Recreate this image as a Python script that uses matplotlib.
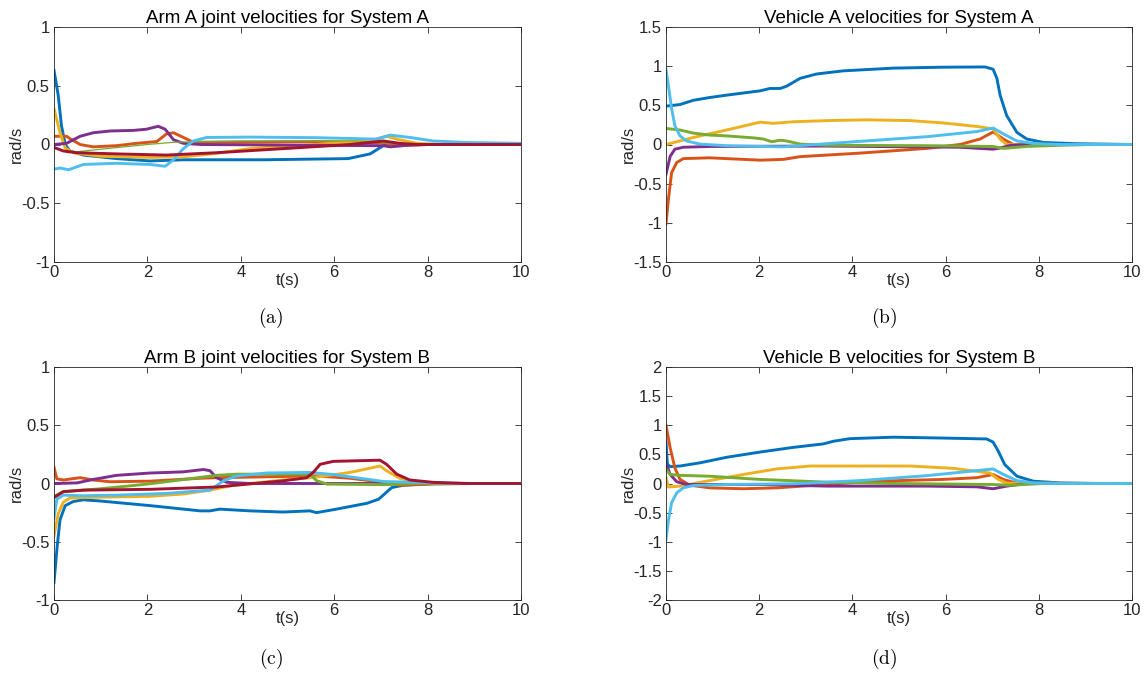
import matplotlib
matplotlib.use('Agg')
import matplotlib.pyplot as plt
from matplotlib.ticker import FormatStrFormatter

plt.rcParams['font.family'] = ['Liberation Sans', 'DejaVu Sans']
plt.rcParams['axes.unicode_minus'] = False
plt.rcParams['mathtext.fontset'] = 'cm'

# MATLAB default line colours
c_blue = '#0072BD'
c_orange = '#D95319'
c_yellow = '#EDB120'
c_purple = '#7E2F8E'
c_green = '#77AC30'
c_lblue = '#4DBEEE'
c_red = '#A2142F'

# ---- (a) Arm A joint velocities, (t, value) ----
arm_a_blue = [(0, 0.63), (0.09, 0.42), (0.16, 0.16), (0.24, 0.0), (0.34, -0.055), (0.63, -0.09),
              (1.34, -0.12), (2.06, -0.14), (2.77, -0.13), (4.5, -0.13), (6.3, -0.12), (6.77, -0.08),
              (7.05, -0.01), (7.2, 0.005), (7.6, 0.0), (10, 0.0)]
arm_a_orange = [(0, 0.07), (0.27, 0.07), (0.34, 0.05), (0.56, 0.0), (0.84, -0.02), (1.34, -0.01),
                (1.77, 0.01), (2.2, 0.025), (2.41, 0.09), (2.56, 0.1), (2.77, 0.06), (2.98, 0.02),
                (4.0, 0.02), (5.6, 0.025), (7.05, 0.015), (7.4, -0.01), (8.0, 0.0), (10, 0.0)]
arm_a_yellow = [(0, 0.305), (0.13, 0.10), (0.24, -0.03), (0.41, -0.07), (0.98, -0.10), (2.06, -0.11),
                (2.77, -0.105), (3.48, -0.075), (4.2, -0.035), (5.6, 0.0), (6.84, 0.04), (7.12, 0.07),
                (7.4, 0.04), (7.77, 0.01), (8.3, 0.0), (10, 0.0)]
arm_a_purple = [(0, 0.0), (0.27, 0.01), (0.56, 0.07), (0.84, 0.10), (1.2, 0.115), (1.7, 0.12),
                (1.98, 0.13), (2.23, 0.155), (2.38, 0.13), (2.56, 0.04), (2.77, 0.01), (3.13, 0.0),
                (5.0, -0.005), (7.05, -0.01), (7.2, -0.02), (7.6, -0.005), (8.0, 0.0), (10, 0.0)]
arm_a_green = [(0, -0.02), (0.3, -0.07), (1.0, -0.04), (2.0, 0.0), (2.6, 0.02), (4.0, 0.03),
               (6.5, 0.03), (7.2, 0.01), (8.0, 0.0), (10, 0.0)]
arm_a_lblue = [(0, -0.21), (0.13, -0.2), (0.31, -0.215), (0.63, -0.17), (1.34, -0.16), (2.06, -0.17),
               (2.38, -0.185), (2.56, -0.13), (2.77, -0.035), (2.98, 0.03), (3.27, 0.06), (4.2, 0.063),
               (5.6, 0.058), (6.9, 0.046), (7.2, 0.08), (7.62, 0.06), (8.12, 0.03), (8.84, 0.017),
               (10, 0.01)]
arm_a_red = [(0, -0.025), (0.2, -0.055), (0.49, -0.07), (1.34, -0.08), (2.41, -0.09), (3.48, -0.07),
             (4.91, -0.035), (6.34, 0.0), (7.05, 0.03), (7.4, 0.01), (7.77, 0.0), (10, 0.0)]

# ---- (b) Vehicle A velocities ----
veh_a_blue = [(0, 0.49), (0.3, 0.51), (0.59, 0.565), (0.94, 0.60), (1.3, 0.63), (2.02, 0.685),
              (2.23, 0.715), (2.45, 0.715), (2.59, 0.745), (2.88, 0.845), (3.23, 0.90), (3.8, 0.94),
              (4.88, 0.975), (5.95, 0.987), (6.85, 0.99), (7.02, 0.96), (7.1, 0.845), (7.17, 0.63),
              (7.31, 0.37), (7.53, 0.155), (7.74, 0.07), (8.1, 0.026), (8.8, 0.01), (10, 0.0)]
veh_a_orange = [(0, -1.01), (0.05, -0.71), (0.12, -0.36), (0.23, -0.23), (0.37, -0.18), (0.94, -0.17),
                (2.02, -0.2), (2.52, -0.19), (2.88, -0.155), (4.16, -0.11), (5.6, -0.05), (6.31, 0.0),
                (6.74, 0.07), (7.02, 0.16), (7.24, 0.07), (7.45, 0.0), (10, 0.0)]
veh_a_yellow = [(0, 0.0), (0.59, 0.09), (1.3, 0.185), (2.02, 0.285), (2.3, 0.27), (2.73, 0.29),
                (3.45, 0.305), (4.3, 0.315), (5.24, 0.305), (5.95, 0.275), (6.67, 0.23), (7.02, 0.2),
                (7.17, 0.07), (7.31, 0.0), (10, 0.0)]
veh_a_purple = [(0, -0.38), (0.09, -0.15), (0.19, -0.06), (0.37, -0.035), (0.94, -0.025), (3.45, -0.02),
                (6.31, -0.035), (7.02, -0.06), (7.13, -0.05), (7.4, -0.01), (7.74, 0.0), (10, 0.0)]
veh_a_green = [(0, 0.205), (0.3, 0.185), (0.59, 0.145), (0.94, 0.12), (1.3, 0.11), (1.87, 0.085),
               (2.09, 0.07), (2.27, 0.035), (2.45, 0.055), (2.59, 0.045), (2.88, 0.005), (3.45, -0.01),
               (5.6, -0.015), (7.02, -0.025), (7.24, -0.05), (7.74, -0.025), (8.45, -0.01), (9.2, 0.0),
               (10, 0.0)]
veh_a_lblue = [(0, 0.955), (0.05, 0.76), (0.12, 0.46), (0.19, 0.24), (0.3, 0.11), (0.44, 0.045),
               (0.73, 0.005), (1.3, -0.015), (2.02, -0.025), (2.52, -0.03), (3.09, -0.005), (4.16, 0.04),
               (5.6, 0.1), (6.67, 0.165), (7.02, 0.21), (7.24, 0.135), (7.53, 0.045), (7.88, 0.013),
               (8.45, 0.0), (10, 0.0)]

# ---- (c) Arm B joint velocities ----
arm_b_blue = [(0, -0.85), (0.07, -0.53), (0.13, -0.31), (0.24, -0.19), (0.41, -0.155), (0.63, -0.14),
              (0.98, -0.15), (2.06, -0.19), (3.13, -0.235), (3.34, -0.235), (3.55, -0.22), (4.2, -0.235),
              (4.91, -0.245), (5.48, -0.235), (5.62, -0.25), (5.98, -0.225), (6.7, -0.17), (6.95, -0.135),
              (7.05, -0.1), (7.23, -0.035), (7.48, -0.015), (8.12, 0.0), (10, 0.0)]
arm_b_orange = [(0, 0.14), (0.06, 0.04), (0.2, 0.03), (0.56, 0.05), (0.84, 0.03), (1.2, 0.015),
                (2.06, 0.02), (3.13, 0.045), (3.48, 0.05), (5.62, 0.065), (6.34, 0.045), (7.05, 0.01),
                (7.4, -0.015), (8.12, -0.005), (9.0, 0.0), (10, 0.0)]
arm_b_yellow = [(0, -0.45), (0.09, -0.26), (0.2, -0.16), (0.34, -0.125), (0.63, -0.12), (2.06, -0.11),
                (2.77, -0.09), (3.34, -0.057), (3.84, -0.015), (4.91, 0.03), (5.62, 0.055), (6.34, 0.095),
                (6.98, 0.15), (7.12, 0.11), (7.4, 0.045), (7.77, 0.01), (8.3, 0.0), (10, 0.0)]
arm_b_purple = [(0, 0.0), (0.49, 0.005), (0.84, 0.035), (1.34, 0.07), (2.06, 0.09), (2.77, 0.10),
                (3.2, 0.12), (3.34, 0.11), (3.48, 0.05), (3.7, 0.01), (4.2, 0.0), (10, 0.0)]
arm_b_green = [(0, -0.11), (0.2, -0.07), (1.0, -0.045), (2.0, -0.005), (3.48, 0.07), (3.9, 0.08),
               (5.48, 0.08), (5.62, 0.025), (5.84, -0.005), (7.05, -0.01), (7.77, 0.0), (10, 0.0)]
arm_b_lblue = [(0, -0.3), (0.06, -0.135), (0.2, -0.1), (0.63, -0.105), (1.34, -0.1), (2.41, -0.085),
               (3.34, -0.057), (3.63, 0.023), (3.91, 0.065), (4.55, 0.09), (5.48, 0.095), (5.98, 0.077),
               (6.7, 0.037), (7.05, 0.017), (7.77, 0.01), (8.48, 0.003), (9.0, 0.0), (10, 0.0)]
arm_b_red = [(0, -0.12), (0.2, -0.07), (0.63, -0.057), (2.06, -0.05), (3.48, -0.03), (4.91, 0.023),
             (5.41, 0.05), (5.55, 0.095), (5.7, 0.165), (5.98, 0.19), (6.98, 0.2), (7.12, 0.165),
             (7.34, 0.08), (7.62, 0.03), (8.12, 0.01), (8.84, 0.0), (10, 0.0)]

# ---- (d) Vehicle B velocities ----
veh_b_blue = [(0, 0.71), (0.03, 0.33), (0.09, 0.29), (0.3, 0.30), (0.73, 0.355), (1.3, 0.45),
              (2.02, 0.54), (2.73, 0.62), (3.38, 0.68), (3.59, 0.725), (3.95, 0.77), (4.88, 0.795),
              (5.95, 0.78), (6.88, 0.765), (7.02, 0.71), (7.13, 0.555), (7.27, 0.325), (7.53, 0.125),
              (7.88, 0.04), (8.45, 0.01), (9.2, 0.0), (10, 0.0)]
veh_b_orange = [(0, 1.0), (0.09, 0.61), (0.19, 0.27), (0.3, 0.07), (0.52, -0.03), (0.94, -0.075),
                (1.66, -0.09), (2.37, -0.075), (3.45, -0.017), (4.52, 0.04), (5.95, 0.07), (6.67, 0.1),
                (7.02, 0.155), (7.24, 0.07), (7.53, 0.005), (10, 0.0)]
veh_b_yellow = [(0, 0.1), (0.05, -0.06), (0.3, -0.045), (0.73, 0.02), (1.66, 0.155), (2.37, 0.25),
                (3.09, 0.30), (4.16, 0.30), (5.24, 0.30), (6.17, 0.26), (6.95, 0.18), (7.13, 0.07),
                (7.31, 0.005), (10, 0.0)]
veh_b_purple = [(0, 0.35), (0.09, 0.155), (0.23, 0.03), (0.44, -0.017), (2.02, -0.017), (3.45, -0.045),
                (5.6, -0.045), (6.67, -0.057), (7.02, -0.09), (7.31, -0.045), (7.74, 0.0), (10, 0.0)]
veh_b_green = [(0, 0.24), (0.09, 0.155), (0.3, 0.14), (0.94, 0.125), (2.02, 0.07), (3.45, 0.023),
               (4.88, 0.0), (7.02, -0.017), (7.38, -0.03), (8.1, 0.0), (10, 0.0)]
veh_b_lblue = [(0, -0.96), (0.05, -0.645), (0.12, -0.33), (0.23, -0.16), (0.37, -0.075), (0.59, -0.034),
               (1.3, -0.017), (2.73, -0.005), (4.16, 0.05), (5.6, 0.135), (7.02, 0.25), (7.24, 0.155),
               (7.53, 0.05), (7.88, 0.01), (8.45, 0.0), (10, 0.0)]

titles = ['Arm A joint velocities for System A', 'Vehicle A velocities for System A',
          'Arm B joint velocities for System B', 'Vehicle B velocities for System B']
captions = ['(a)', '(b)', '(c)', '(d)']

LW = 2.1
panels = [
    [(arm_a_blue, c_blue, LW), (arm_a_orange, c_orange, LW), (arm_a_yellow, c_yellow, LW),
     (arm_a_purple, c_purple, LW), (arm_a_green, c_green, 0.9), (arm_a_lblue, c_lblue, LW),
     (arm_a_red, c_red, LW)],
    [(veh_a_blue, c_blue, LW), (veh_a_orange, c_orange, LW), (veh_a_yellow, c_yellow, LW),
     (veh_a_purple, c_purple, LW), (veh_a_green, c_green, LW), (veh_a_lblue, c_lblue, LW)],
    [(arm_b_blue, c_blue, LW), (arm_b_orange, c_orange, LW), (arm_b_yellow, c_yellow, LW),
     (arm_b_purple, c_purple, LW), (arm_b_green, c_green, LW), (arm_b_lblue, c_lblue, LW),
     (arm_b_red, c_red, LW)],
    [(veh_b_blue, c_blue, LW), (veh_b_orange, c_orange, LW), (veh_b_yellow, c_yellow, LW),
     (veh_b_purple, c_purple, LW), (veh_b_green, c_green, LW), (veh_b_lblue, c_lblue, LW)],
]
ylims = [(-1, 1), (-1.5, 1.5), (-1, 1), (-2, 2)]
yticks = [[-1, -0.5, 0, 0.5, 1], [-1.5, -1, -0.5, 0, 0.5, 1, 1.5],
          [-1, -0.5, 0, 0.5, 1], [-2, -1.5, -1, -0.5, 0, 0.5, 1, 1.5, 2]]

W, H = 1148, 679
fig = plt.figure(figsize=(W / 100, H / 100), dpi=100)

# axes boxes in pixels: left, top, right, bottom
boxes = [(54, 27, 521, 262), (666, 27, 1132, 262), (54, 367, 521, 600), (666, 367, 1132, 600)]
cap_pos = [(271, 318), (884, 318), (271, 659), (884, 659)]
dark = '#262626'

for i in range(4):
    l, t, r, b = boxes[i]
    ax = fig.add_axes([l / W, 1 - b / H, (r - l) / W, (b - t) / H])
    for pts, col, lw in panels[i]:
        ax.plot([p[0] for p in pts], [p[1] for p in pts], color=col, lw=lw)
    ax.set_xlim(0, 10)
    ax.set_ylim(*ylims[i])
    ax.set_xticks([0, 2, 4, 6, 8, 10])
    ax.set_yticks(yticks[i])
    ax.yaxis.set_major_formatter(FormatStrFormatter('%g'))
    ax.tick_params(direction='in', top=True, right=True, length=4, width=0.6,
                   color=dark, labelcolor=dark, labelsize=12)
    ax.tick_params(axis='x', pad=2)
    ax.tick_params(axis='y', pad=3)
    for s in ax.spines.values():
        s.set_linewidth(0.6)
        s.set_color(dark)
    ax.set_title(titles[i], fontsize=13.5, color='black', pad=3)
    ax.set_xlabel('t(s)', fontsize=12, color=dark, labelpad=-5)
    ax.set_ylabel('rad/s', fontsize=12, color=dark, labelpad=-2)
    fig.text(cap_pos[i][0] / W, 1 - cap_pos[i][1] / H, r'$\mathrm{' + captions[i] + '}$',
             ha='center', va='center', fontsize=14)

fig.savefig('out.png', dpi=100)
